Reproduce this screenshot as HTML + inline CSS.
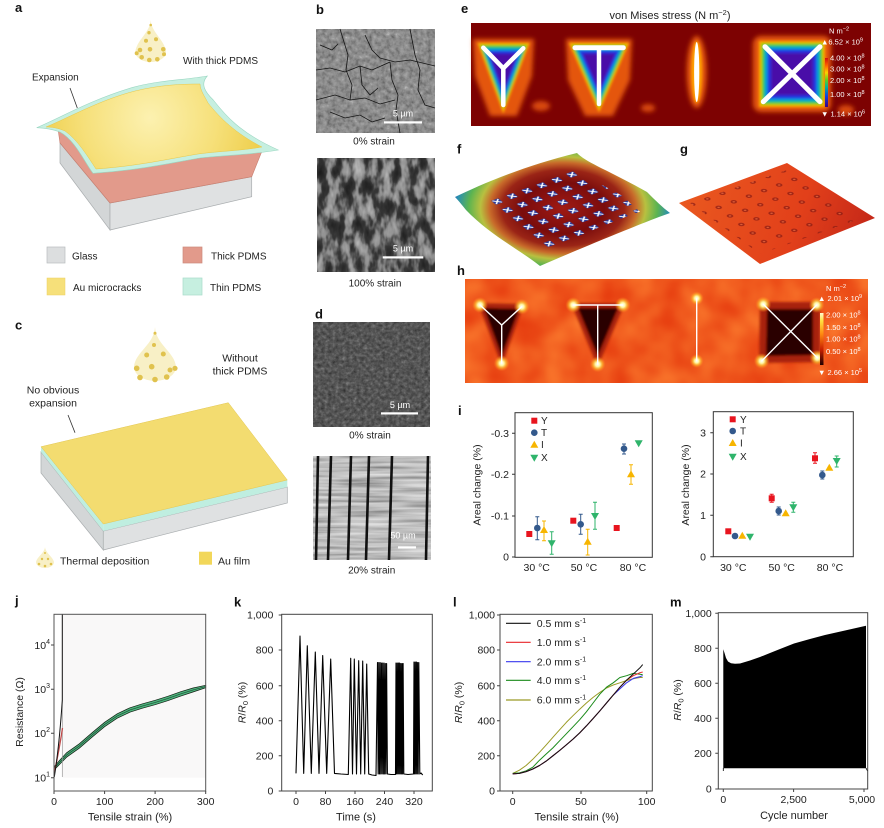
<!DOCTYPE html>
<html><head><meta charset="utf-8"><style>
html,body{margin:0;padding:0;background:#fff;}
svg{display:block;font-family:"Liberation Sans",Arial,sans-serif;}
</style></head><body>
<svg width="884" height="828" viewBox="0 0 884 828" xmlns="http://www.w3.org/2000/svg">
<defs>
  <filter id="semB1" x="0" y="0" width="1" height="1" color-interpolation-filters="sRGB">
    <feTurbulence type="fractalNoise" baseFrequency="0.22" numOctaves="3" seed="3"/>
    <feColorMatrix type="matrix" values="1 0 0 0 0 1 0 0 0 0 1 0 0 0 0 0 0 0 0 1"/>
    <feComponentTransfer><feFuncR type="table" tableValues="0.3 0.45 0.55 0.62 0.8"/><feFuncG type="table" tableValues="0.3 0.45 0.55 0.62 0.8"/><feFuncB type="table" tableValues="0.3 0.45 0.55 0.62 0.8"/></feComponentTransfer>
  </filter>
  <filter id="semB2" x="0" y="0" width="1" height="1" color-interpolation-filters="sRGB">
    <feTurbulence type="fractalNoise" baseFrequency="0.11 0.05" numOctaves="3" seed="7"/>
    <feColorMatrix type="matrix" values="1 0 0 0 0 1 0 0 0 0 1 0 0 0 0 0 0 0 0 1"/>
    <feComponentTransfer><feFuncR type="table" tableValues="0.1 0.15 0.22 0.55 0.68 0.78"/><feFuncG type="table" tableValues="0.1 0.15 0.22 0.55 0.68 0.78"/><feFuncB type="table" tableValues="0.1 0.15 0.22 0.55 0.68 0.78"/></feComponentTransfer>
  </filter>
  <filter id="semD1" x="0" y="0" width="1" height="1" color-interpolation-filters="sRGB">
    <feTurbulence type="fractalNoise" baseFrequency="0.28" numOctaves="3" seed="11"/>
    <feColorMatrix type="matrix" values="1 0 0 0 0 1 0 0 0 0 1 0 0 0 0 0 0 0 0 1"/>
    <feComponentTransfer><feFuncR type="table" tableValues="0.15 0.26 0.33 0.42 0.55"/><feFuncG type="table" tableValues="0.15 0.26 0.33 0.42 0.55"/><feFuncB type="table" tableValues="0.15 0.26 0.33 0.42 0.55"/></feComponentTransfer>
  </filter>
  <filter id="semD2" x="0" y="0" width="1" height="1" color-interpolation-filters="sRGB">
    <feTurbulence type="fractalNoise" baseFrequency="0.015 0.3" numOctaves="2" seed="5"/>
    <feColorMatrix type="matrix" values="1 0 0 0 0 1 0 0 0 0 1 0 0 0 0 0 0 0 0 1"/>
    <feComponentTransfer><feFuncR type="table" tableValues="0.4 0.6 0.75 0.85 0.92"/><feFuncG type="table" tableValues="0.4 0.6 0.75 0.85 0.92"/><feFuncB type="table" tableValues="0.4 0.6 0.75 0.85 0.92"/></feComponentTransfer>
  </filter>
  <filter id="hMot" x="0" y="0" width="1" height="1" color-interpolation-filters="sRGB">
    <feTurbulence type="fractalNoise" baseFrequency="0.035" numOctaves="2" seed="9"/>
    <feColorMatrix type="matrix" values="0.1 0 0 0 0.89  0.3 0 0 0 0.2  0.15 0 0 0 0.04  0 0 0 0 1"/>
  </filter>
  <filter id="bl2" x="-30%" y="-30%" width="160%" height="160%"><feGaussianBlur stdDeviation="1.4"/></filter>
  <filter id="bl3" x="-50%" y="-50%" width="200%" height="200%"><feGaussianBlur stdDeviation="2.5"/></filter>

  <linearGradient id="cbE" x1="0" y1="0" x2="0" y2="1">
    <stop offset="0" stop-color="#d01010"/><stop offset="0.15" stop-color="#ff6000"/><stop offset="0.3" stop-color="#ffd000"/><stop offset="0.45" stop-color="#60d020"/><stop offset="0.6" stop-color="#00b0a0"/><stop offset="0.78" stop-color="#1040e0"/><stop offset="1" stop-color="#400080"/>
  </linearGradient>
  <linearGradient id="cbH" x1="0" y1="0" x2="0" y2="1">
    <stop offset="0" stop-color="#fffbd0"/><stop offset="0.15" stop-color="#ffe040"/><stop offset="0.4" stop-color="#ff8a10"/><stop offset="0.7" stop-color="#c82000"/><stop offset="1" stop-color="#200000"/>
  </linearGradient>
  <radialGradient id="glow">
    <stop offset="0" stop-color="#ffffff"/><stop offset="0.3" stop-color="#fff6a0"/><stop offset="0.6" stop-color="#ffc030" stop-opacity="0.7"/><stop offset="1" stop-color="#ff8020" stop-opacity="0"/>
  </radialGradient>
  <radialGradient id="ygrad" cx="150" cy="118" r="110" gradientUnits="userSpaceOnUse">
    <stop offset="0" stop-color="#fcf1b0"/><stop offset="0.6" stop-color="#f6e07a"/><stop offset="1" stop-color="#efd050"/>
  </radialGradient>
  <radialGradient id="fgrad" cx="563" cy="208" r="118" gradientUnits="userSpaceOnUse" gradientTransform="translate(563 208) scale(1 0.62) translate(-563 -208)">
    <stop offset="0" stop-color="#a01a14"/><stop offset="0.35" stop-color="#7a0c0c"/><stop offset="0.52" stop-color="#9a2416"/><stop offset="0.62" stop-color="#c86a2a"/><stop offset="0.7" stop-color="#b8c040"/><stop offset="0.8" stop-color="#5cb450"/><stop offset="0.9" stop-color="#2a90b0"/><stop offset="1" stop-color="#2838b0"/>
  </radialGradient>
  <linearGradient id="ggrad" x1="679" y1="180" x2="875" y2="250" gradientUnits="userSpaceOnUse">
    <stop offset="0" stop-color="#ea5a20"/><stop offset="0.6" stop-color="#e2401a"/><stop offset="1" stop-color="#c02418"/>
  </linearGradient>
  <pattern id="gdots" width="14" height="14" patternUnits="userSpaceOnUse" patternTransform="matrix(1.08 -0.4 0.81 0.61 679 203)">
    <circle cx="7" cy="7" r="2.4" fill="#8a1a12" opacity="0.75"/>
    <circle cx="7" cy="7" r="1" fill="#e86a40" opacity="0.8"/>
  </pattern>
  <pattern id="fpat" width="17" height="17" patternUnits="userSpaceOnUse" patternTransform="matrix(1.22 -0.44 0.85 0.69 455 197)">
    <rect x="4" y="4" width="8" height="8" fill="#2a3a9a"/>
    <path d="M4.8,4.8 L11.2,11.2 M11.2,4.8 L4.8,11.2" stroke="#fff" stroke-width="1.5"/>
  </pattern>
  <polygon id="triY" points="481,46 526,46 503.3,107"/>
  <polygon id="triT" points="573,46 625,46 599,106"/>
  <polygon id="sqX" points="762,44 822,44 822,104 762,104"/>
  <path id="fsheet" d="M455,197 C480,185 523,166 577,153 C585,162 612,172 647,192 C655,200 662,207 670,213 C650,220 600,240 540,266 C520,250 490,235 466,210 C462,205 458,200 455,197 Z"/>
</defs>

<!-- ================= Panel a ================= -->
<text x="15" y="12" font-size="13" font-weight="bold" fill="#111">a</text>
<path d="M150.7,20 C151.5,33 165,40 166,52 A15.3,10 0 0 1 135.4,52 C136.4,40 150,33 150.7,20 Z" fill="#f8f0c6"/>
<g fill="#e0c24e">
<circle cx="150.7" cy="25" r="1.3"/><circle cx="149" cy="32.7" r="1.7"/><circle cx="156" cy="39.3" r="2"/><circle cx="146" cy="40.7" r="2"/><circle cx="140" cy="50" r="2.3"/><circle cx="150" cy="49.3" r="2.3"/><circle cx="163.3" cy="49.3" r="2.3"/><circle cx="141.7" cy="57.3" r="2.3"/><circle cx="149.3" cy="60" r="2.3"/><circle cx="157.3" cy="59.3" r="2.3"/><circle cx="164" cy="54.3" r="2"/><circle cx="136.7" cy="53.3" r="2"/>
</g>
<text x="183" y="64" font-size="10" fill="#222">With thick PDMS</text>
<text x="32" y="80.5" font-size="10" fill="#222">Expansion</text>
<line x1="70" y1="88" x2="77.3" y2="108" stroke="#333" stroke-width="0.8"/>
<path d="M60,143 L110,203 L110,230 L60,163 Z" fill="#d3d6d7" stroke="#a9adaf" stroke-width="0.7"/>
<path d="M110,203 L251.7,176.7 L251.7,196.7 L110,230 Z" fill="#dfe1e2" stroke="#a9adaf" stroke-width="0.7"/>
<path d="M58,129 C70,136 80,152 93,173 C140,168 200,156 262,151 L251.7,176.7 L110,203 L60,143 Z" fill="#e29a8b" stroke="#c77f70" stroke-width="0.6"/>
<path d="M36.7,127.7 C60,118 90,100 133,87.3 C160,80 185,80 207.3,76 C200,84 205,92 213.3,100 C225,115 240,133 278.3,150 C250,155 225,155 200,158 C170,163 140,170 93,173.3 C85,163 75,140 60,132 C52,129 44,128 36.7,127.7 Z" fill="#c6efe0" stroke="#9ad6c2" stroke-width="0.6"/>
<path d="M46,127 C70,117 100,100 135,91 C160,85 180,84 200,84 C200,90 205,97 208,103 C220,118 235,133 262,147 C240,151 220,151 198,154 C168,159 138,166 96,169 C88,157 78,140 65,131 C58,128 52,127 46,127 Z" fill="url(#ygrad)" stroke="#e8c84a" stroke-width="0.5"/>
<rect x="47" y="247" width="18" height="16" fill="#dcdedf" stroke="#b8bcbe" stroke-width="0.7"/>
<text x="72" y="259.5" font-size="10" fill="#222">Glass</text>
<rect x="183" y="247" width="19" height="16" fill="#e29a8b" stroke="#cc8a7c" stroke-width="0.7"/>
<text x="211" y="259.5" font-size="10" fill="#222">Thick PDMS</text>
<rect x="47" y="278" width="18" height="17" fill="#f6e07a" stroke="#ecd060" stroke-width="0.5"/>
<text x="73" y="291" font-size="10" fill="#222">Au microcracks</text>
<rect x="183" y="278" width="19" height="17" fill="#c6efe0" stroke="#a8dccb" stroke-width="0.7"/>
<text x="210" y="291" font-size="10" fill="#222">Thin PDMS</text>

<!-- ================= Panel c ================= -->
<text x="15" y="329.5" font-size="13" font-weight="bold" fill="#111">c</text>
<path d="M155,327 C156,345 175,352 176,367 A21,14 0 0 1 134,367 C135,352 154,345 155,327 Z" fill="#f8f0c6"/>
<g fill="#e0c24e">
<circle cx="155" cy="333.3" r="1.5"/><circle cx="154" cy="345" r="2"/><circle cx="146.7" cy="355" r="2.5"/><circle cx="163.3" cy="354" r="2.5"/><circle cx="136.7" cy="368.3" r="2.8"/><circle cx="151.7" cy="366.7" r="2.8"/><circle cx="175" cy="368.3" r="2.6"/><circle cx="140" cy="377.5" r="2.8"/><circle cx="155" cy="379.5" r="2.8"/><circle cx="166.7" cy="377" r="2.8"/><circle cx="170" cy="370" r="2.5"/>
</g>
<text x="240" y="361.5" font-size="10.5" fill="#222" text-anchor="middle">Without</text>
<text x="240" y="374.5" font-size="10.5" fill="#222" text-anchor="middle">thick PDMS</text>
<text x="53" y="393.5" font-size="10.5" fill="#222" text-anchor="middle">No obvious</text>
<text x="53" y="406.5" font-size="10.5" fill="#222" text-anchor="middle">expansion</text>
<line x1="68" y1="415" x2="75" y2="432.7" stroke="#333" stroke-width="0.8"/>
<path d="M41,452 L103.3,531 L103.3,550 L41,473 Z" fill="#d3d6d7" stroke="#a9adaf" stroke-width="0.7"/>
<path d="M103.3,531 L287.3,487 L287.3,503 L103.3,550 Z" fill="#dfe1e2" stroke="#a9adaf" stroke-width="0.7"/>
<path d="M41,446.7 L103.3,524 L103.3,531 L41,452 Z" fill="#bfeee0"/>
<path d="M103.3,524 L287.3,480 L287.3,487 L103.3,531 Z" fill="#bfeee0"/>
<path d="M41,446.7 L228.3,402.7 L287.3,480 L103.3,524 Z" fill="#f3dc70" stroke="#e2c650" stroke-width="0.5"/>
<path d="M45,547 C45.5,553 53,557 54,562 A9,6 0 0 1 36,562 C37,557 44.5,553 45,547 Z" fill="#f8f0c6"/>
<g fill="#e0c24e"><circle cx="45" cy="553" r="1"/><circle cx="42" cy="559" r="1.2"/><circle cx="48" cy="559" r="1.2"/><circle cx="39" cy="564" r="1.3"/><circle cx="45" cy="566" r="1.3"/><circle cx="51" cy="564" r="1.3"/></g>
<text x="60" y="564.5" font-size="10.5" fill="#222">Thermal deposition</text>
<rect x="199" y="551.7" width="13" height="13" fill="#f2d75a"/>
<text x="218" y="564.5" font-size="10.5" fill="#222">Au film</text>

<!-- ================= Panel b ================= -->
<text x="316" y="14" font-size="13" font-weight="bold" fill="#111">b</text>
<rect x="316" y="29" width="119" height="104" filter="url(#semB1)"/>
<g fill="none" stroke="#151515" stroke-width="0.8">
<path d="M316,70 L330,68 L345,72 L360,66 L372,70 L390,62"/>
<path d="M340,29 L348,55 L346,70 L352,85 L350,100"/>
<path d="M365,35 L372,50 L380,58 L395,62 L410,60 L435,66"/>
<path d="M316,100 L335,95 L350,100 L365,98 L380,104 L395,100"/>
<path d="M390,62 L392,80 L398,95 L396,110 L400,133"/>
<path d="M410,29 L415,55 L420,70 L418,90 L425,105 L435,108"/>
<path d="M330,112 L345,118 L360,115 L372,122 L385,118"/>
<path d="M360,66 L362,85 L370,95 L378,88"/>
<path d="M320,45 L332,50 L338,44"/>
</g>
<rect x="384" y="121.3" width="38" height="2.2" fill="#fff"/>
<text x="403" y="116.5" font-size="9" fill="#fff" text-anchor="middle">5 µm</text>
<text x="374" y="144.5" font-size="10" fill="#222" text-anchor="middle">0% strain</text>
<rect x="317" y="158" width="118" height="114" filter="url(#semB2)"/>
<rect x="382.7" y="256.3" width="40.6" height="2.2" fill="#fff"/>
<text x="403" y="251.5" font-size="9" fill="#fff" text-anchor="middle">5 µm</text>
<text x="375" y="286.5" font-size="10" fill="#222" text-anchor="middle">100% strain</text>

<!-- ================= Panel d ================= -->
<text x="315" y="318.5" font-size="13" font-weight="bold" fill="#111">d</text>
<rect x="313" y="322" width="117" height="105" filter="url(#semD1)"/>
<rect x="381" y="412.3" width="37" height="2.2" fill="#fff"/>
<text x="400" y="408" font-size="9" fill="#fff" text-anchor="middle">5 µm</text>
<text x="370" y="438.5" font-size="10" fill="#222" text-anchor="middle">0% strain</text>
<rect x="313" y="456" width="118" height="104" filter="url(#semD2)"/>
<g stroke="#111" stroke-width="2.6" fill="none">
<path d="M318,456 L316,560"/><path d="M331,456 L328,560"/><path d="M351,456 L348,560"/><path d="M369,456 L366,560"/><path d="M392,456 L389,560"/><path d="M428,456 L426,560"/>
</g>
<rect x="398" y="546.3" width="18" height="2.2" fill="#fff"/>
<text x="403" y="538.5" font-size="9" fill="#fff" text-anchor="middle">50 µm</text>
<text x="371.7" y="573.5" font-size="10" fill="#222" text-anchor="middle">20% strain</text>

<!-- ================= Panel e ================= -->
<text x="461" y="13" font-size="13" font-weight="bold" fill="#111">e</text>
<text x="670" y="19" font-size="11" fill="#222" text-anchor="middle">von Mises stress (N m<tspan font-size="7.5" dy="-4">−2</tspan><tspan dy="4">)</tspan></text>
<rect x="471" y="23" width="400" height="103" fill="#7d0202"/>
<g filter="url(#bl3)">
<polygon points="473,39 534,39 532,76 517,116 490,116 475,76" fill="#e4560a"/>
<polygon points="566,39 632,39 630,80 613,116 585,116 568,80" fill="#e4560a"/>
<rect x="753" y="36" width="78" height="76" rx="8" fill="#e4560a"/>
<ellipse cx="696.7" cy="72" rx="10" ry="36" fill="#e4560a"/>
<ellipse cx="541" cy="106" rx="9" ry="5" fill="#d8480a"/><ellipse cx="648" cy="108" rx="7" ry="4" fill="#d8480a"/><ellipse cx="846" cy="110" rx="8" ry="5" fill="#d8480a"/>
</g>
<g filter="url(#bl2)">
<use href="#triY" fill="#ffb000" transform="translate(503.4 66.3) scale(1.16) translate(-503.4 -66.3)"/>
<use href="#triY" fill="#80d000" transform="translate(503.4 66.3) scale(1.06) translate(-503.4 -66.3)"/>
<use href="#triY" fill="#00c070" transform="translate(503.4 66.3) scale(0.97) translate(-503.4 -66.3)"/>
<use href="#triY" fill="#00a0e0" transform="translate(503.4 66.3) scale(0.88) translate(-503.4 -66.3)"/>
<use href="#triY" fill="#2030e0" transform="translate(503.4 66.3) scale(0.77) translate(-503.4 -66.3)"/>
<use href="#triY" fill="#4a10a8" transform="translate(503.4 66.3) scale(0.62) translate(-503.4 -66.3)"/>
<use href="#triT" fill="#ffb000" transform="translate(599 66) scale(1.16) translate(-599 -66)"/>
<use href="#triT" fill="#80d000" transform="translate(599 66) scale(1.06) translate(-599 -66)"/>
<use href="#triT" fill="#00c070" transform="translate(599 66) scale(0.97) translate(-599 -66)"/>
<use href="#triT" fill="#00a0e0" transform="translate(599 66) scale(0.88) translate(-599 -66)"/>
<use href="#triT" fill="#2030e0" transform="translate(599 66) scale(0.77) translate(-599 -66)"/>
<use href="#triT" fill="#4a10a8" transform="translate(599 66) scale(0.62) translate(-599 -66)"/>
<use href="#sqX" fill="#ffb000" transform="translate(792 74) scale(1.1) translate(-792 -74)"/>
<use href="#sqX" fill="#80d000" transform="translate(792 74) scale(1.03) translate(-792 -74)"/>
<use href="#sqX" fill="#00c070" transform="translate(792 74) scale(0.96) translate(-792 -74)"/>
<use href="#sqX" fill="#00a0e0" transform="translate(792 74) scale(0.9) translate(-792 -74)"/>
<use href="#sqX" fill="#2030e0" transform="translate(792 74) scale(0.82) translate(-792 -74)"/>
<use href="#sqX" fill="#4a10a8" transform="translate(792 74) scale(0.7) translate(-792 -74)"/>
<ellipse cx="696.7" cy="72" rx="5.5" ry="31" fill="#ffa000"/>
</g>
<g stroke="#fff" stroke-linecap="round" fill="none">
<path d="M483.3,47.7 L503.3,68.3 L523.3,48.3 M503.3,68.3 L503.3,105" stroke-width="4.5" stroke-linejoin="round"/>
<path d="M575,47.7 L623.3,47.7" stroke-width="5"/><path d="M599,47.7 L599,104" stroke-width="4.5"/>
<path d="M765,46.7 L820,101.7 M820,46.7 L763.3,101.7" stroke-width="5"/>
</g>
<ellipse cx="696.7" cy="72" rx="2.6" ry="30" fill="#fff"/>
<rect x="825" y="58" width="3" height="49" fill="url(#cbE)"/>
<g font-size="7.5" fill="#fff">
<text x="829" y="33.5">N m<tspan font-size="5.5" dy="-3">−2</tspan></text>
<text x="821" y="44.5">▲6.52 × 10<tspan font-size="5.5" dy="-3">9</tspan></text>
<text x="830" y="60.5">4.00 × 10<tspan font-size="5.5" dy="-3">8</tspan></text>
<text x="830" y="71.5">3.00 × 10<tspan font-size="5.5" dy="-3">8</tspan></text>
<text x="830" y="83">2.00 × 10<tspan font-size="5.5" dy="-3">8</tspan></text>
<text x="830" y="97">1.00 × 10<tspan font-size="5.5" dy="-3">8</tspan></text>
<text x="821" y="116.5">▼ 1.14 × 10<tspan font-size="5.5" dy="-3">6</tspan></text>
</g>

<!-- ================= Panel f ================= -->
<text x="457" y="153.5" font-size="13" font-weight="bold" fill="#111">f</text>
<use href="#fsheet" fill="url(#fgrad)"/>
<use href="#fsheet" fill="url(#fpat)" transform="translate(563 208) scale(0.72) translate(-563 -208)"/>

<!-- ================= Panel g ================= -->
<text x="680" y="153.5" font-size="13" font-weight="bold" fill="#111">g</text>
<polygon points="679,203 787,163 875,218 760,264" fill="url(#ggrad)"/>
<polygon points="690,203 787,170 862,218 760,254" fill="url(#gdots)"/>

<!-- ================= Panel h ================= -->
<text x="457" y="275" font-size="13" font-weight="bold" fill="#111">h</text>
<rect x="465" y="279" width="403" height="104" filter="url(#hMot)"/>
<g filter="url(#bl2)">
<polygon points="478,303 524,304 501.7,366" fill="#a82008"/>
<polygon points="484,308 519,309 501.7,356" fill="#2a0200"/>
<polygon points="571,303 625,303 597.7,367" fill="#a82008"/>
<polygon points="578,308 618,308 597.7,356" fill="#2a0200"/>
<polygon points="760,302 820,302 820,362 759,363" fill="#a82008"/>
<polygon points="767,309 813,309 813,355 766,356" fill="#2a0200"/>
</g>
<g fill="url(#glow)">
<circle cx="480" cy="305" r="8"/><circle cx="521.7" cy="306.7" r="8"/><circle cx="501.7" cy="363.3" r="8"/>
<circle cx="573.3" cy="305" r="8"/><circle cx="622.7" cy="305" r="8"/><circle cx="597.7" cy="364.3" r="8"/>
<circle cx="696.7" cy="298.3" r="7"/><circle cx="696.7" cy="361" r="7"/>
<circle cx="763.3" cy="304.3" r="8"/><circle cx="817.3" cy="357.7" r="8"/><circle cx="816.7" cy="305" r="8"/><circle cx="761.7" cy="361" r="8"/>
</g>
<g stroke="#fff" stroke-width="1.4" fill="none">
<path d="M480,305 L501.7,325 L521.7,306.7 M501.7,325 L501.7,363.3"/>
<path d="M573.3,305 L622.7,305 M597.7,305 L597.7,364.3"/>
<path d="M696.7,298.3 L696.7,361"/>
<path d="M763.3,304.3 L817.3,357.7 M816.7,305 L761.7,361"/>
</g>
<rect x="820" y="313" width="3.5" height="52" fill="url(#cbH)"/>
<g font-size="7.5" fill="#fff">
<text x="826" y="291">N m<tspan font-size="5.5" dy="-3">−2</tspan></text>
<text x="818" y="301">▲ 2.01 × 10<tspan font-size="5.5" dy="-3">9</tspan></text>
<text x="826" y="317.5">2.00 × 10<tspan font-size="5.5" dy="-3">8</tspan></text>
<text x="826" y="330">1.50 × 10<tspan font-size="5.5" dy="-3">8</tspan></text>
<text x="826" y="341.5">1.00 × 10<tspan font-size="5.5" dy="-3">8</tspan></text>
<text x="826" y="354">0.50 × 10<tspan font-size="5.5" dy="-3">8</tspan></text>
<text x="818" y="375">▼ 2.66 × 10<tspan font-size="5.5" dy="-3">5</tspan></text>
</g>

<!-- ================= Panel i ================= -->
<text x="458" y="415" font-size="13" font-weight="bold" fill="#111">i</text>
<rect x="515" y="412.7" width="137.3" height="144.6" fill="none" stroke="#333" stroke-width="1"/>
<g stroke="#333" stroke-width="1"><path d="M512,433.3 H515 M512,474.3 H515 M512,516 H515 M512,557 H515"/></g>
<g font-size="10.5" fill="#222" text-anchor="end">
<text x="509" y="437">-0.3</text><text x="509" y="478">-0.2</text><text x="509" y="519.7">-0.1</text><text x="509" y="560.7">0</text>
</g>
<g font-size="10.5" fill="#222" text-anchor="middle">
<text x="536.7" y="571">30 °C</text><text x="584" y="571">50 °C</text><text x="633" y="571">80 °C</text>
</g>
<text transform="translate(480.5 485) rotate(-90)" font-size="10.5" fill="#222" text-anchor="middle">Areal change (%)</text>
<g stroke-width="1">
<path d="M537.3,516.7 V539.7 M535.3,516.7 H539.3 M535.3,539.7 H539.3" stroke="#33598c"/>
<path d="M544,521 V540.7 M542,521 H546 M542,540.7 H546" stroke="#f7b500"/>
<path d="M551.7,531.7 V554.3 M549.7,531.7 H553.7 M549.7,554.3 H553.7" stroke="#2fb46b"/>
<path d="M580.7,514.3 V534.3 M578.7,514.3 H582.7 M578.7,534.3 H582.7" stroke="#33598c"/>
<path d="M587.7,529.3 V555 M585.7,529.3 H589.7 M585.7,555 H589.7" stroke="#f7b500"/>
<path d="M595,502.3 V529.3 M593,502.3 H597 M593,529.3 H597" stroke="#2fb46b"/>
<path d="M624,444 V454 M622,444 H626 M622,454 H626" stroke="#33598c"/>
<path d="M631,464.7 V484.3 M629,464.7 H633 M629,484.3 H633" stroke="#f7b500"/>
<path d="M638.7,441 V446 M636.7,441 H640.7" stroke="#2fb46b"/>
<path d="M529.3,531.5 V536.5" stroke="#e8141e"/>
</g>
<g fill="#e8141e"><rect x="526.3" y="531" width="6" height="6"/><rect x="570.3" y="517.7" width="6" height="6"/><rect x="613.7" y="525" width="6" height="6"/><rect x="531.3" y="417.7" width="6" height="6"/></g>
<g fill="#33598c"><circle cx="537.3" cy="528" r="3.3"/><circle cx="580.7" cy="524.3" r="3.3"/><circle cx="624" cy="448.7" r="3.3"/><circle cx="534.3" cy="432.7" r="3.3"/></g>
<g fill="#f7b500"><path d="M544,526 L548,533 L540,533 Z"/><path d="M587.7,537.7 L591.7,544.7 L583.7,544.7 Z"/><path d="M631,470.3 L635,477.3 L627,477.3 Z"/><path d="M534.3,440.7 L538.3,447.7 L530.3,447.7 Z"/></g>
<g fill="#2fb46b"><path d="M551.7,547.3 L555.7,540.3 L547.7,540.3 Z"/><path d="M595,520 L599,513 L591,513 Z"/><path d="M638.7,447.3 L642.7,440.3 L634.7,440.3 Z"/><path d="M534.3,461.7 L538.3,454.7 L530.3,454.7 Z"/></g>
<g font-size="10" fill="#222"><text x="541" y="424.2">Y</text><text x="541" y="436.2">T</text><text x="541" y="448.2">I</text><text x="541" y="461.2">X</text></g>

<rect x="713.3" y="411.7" width="140" height="145" fill="none" stroke="#333" stroke-width="1"/>
<g stroke="#333" stroke-width="1"><path d="M710.3,432.7 H713.3 M710.3,474 H713.3 M710.3,515.3 H713.3 M710.3,556.7 H713.3"/></g>
<g font-size="10.5" fill="#222" text-anchor="end">
<text x="706" y="436.4">3</text><text x="706" y="477.7">2</text><text x="706" y="519">1</text><text x="706" y="560.4">0</text>
</g>
<g font-size="10.5" fill="#222" text-anchor="middle">
<text x="733.3" y="571">30 °C</text><text x="781.7" y="571">50 °C</text><text x="830" y="571">80 °C</text>
</g>
<text transform="translate(689 485) rotate(-90)" font-size="10.5" fill="#222" text-anchor="middle">Areal change (%)</text>
<g stroke-width="1">
<path d="M771.7,494.3 V502.3 M769.7,494.3 H773.7 M769.7,502.3 H773.7" stroke="#e8141e"/>
<path d="M793.3,502.3 V512.3 M791.3,502.3 H795.3 M791.3,512.3 H795.3" stroke="#2fb46b"/>
<path d="M815,452.7 V463.3 M813,452.7 H817 M813,463.3 H817" stroke="#e8141e"/>
<path d="M822.3,471 V479 M820.3,471 H824.3 M820.3,479 H824.3" stroke="#33598c"/>
<path d="M836.7,456 V467 M834.7,456 H838.7 M834.7,467 H838.7" stroke="#2fb46b"/>
<path d="M778.7,507 V515 M776.7,507 H780.7 M776.7,515 H780.7" stroke="#33598c"/>
</g>
<g fill="#e8141e"><rect x="725.3" y="528.3" width="6" height="6"/><rect x="768.7" y="495.3" width="6" height="6"/><rect x="812" y="455.3" width="6" height="6"/><rect x="729.7" y="416.3" width="6" height="6"/></g>
<g fill="#33598c"><circle cx="735" cy="536" r="3.3"/><circle cx="778.7" cy="511" r="3.3"/><circle cx="822.3" cy="475" r="3.3"/><circle cx="732.7" cy="431" r="3.3"/></g>
<g fill="#f7b500"><path d="M742.3,531.7 L746.3,538.7 L738.3,538.7 Z"/><path d="M785.7,509.3 L789.7,516.3 L781.7,516.3 Z"/><path d="M829.3,463.7 L833.3,470.7 L825.3,470.7 Z"/><path d="M732.7,439 L736.7,446 L728.7,446 Z"/></g>
<g fill="#2fb46b"><path d="M750,540.7 L754,533.7 L746,533.7 Z"/><path d="M793.3,511.3 L797.3,504.3 L789.3,504.3 Z"/><path d="M836.7,465 L840.7,458 L832.7,458 Z"/><path d="M732.7,460.7 L736.7,453.7 L728.7,453.7 Z"/></g>
<g font-size="10" fill="#222"><text x="740" y="422.8">Y</text><text x="740" y="434.5">T</text><text x="740" y="446.5">I</text><text x="740" y="460.2">X</text></g>

<!-- ================= Panel j ================= -->
<text x="15" y="605" font-size="13" font-weight="bold" fill="#111">j</text>
<rect x="62.3" y="614.3" width="143.4" height="163.4" fill="#f9f8f8"/>
<polygon fill="#4cb37c" stroke="#152015" stroke-width="0.7" points="54,767 59,761 66.6,752.8 79.3,743.8 92,732.8 104.6,722.3 117.2,713.8 129.9,707.8 142.5,703.8 155.1,700.3 167.8,696.3 180.4,691.8 193,688 205.7,685.3 205.7,687.7 193,692 180.4,696.2 167.8,700.7 155.1,704.7 142.5,708.2 129.9,712.2 117.2,718.2 104.6,726.7 92,737.2 79.3,748.2 66.6,757.2 59,765 54,770"/>
<polyline fill="none" stroke="#1a3a2a" stroke-width="0.6" points="54,768.5 59,763 66.6,755 79.3,746 92,735 104.6,724.5 117.2,716 129.9,710 142.5,706 155.1,702.5 167.8,698.5 180.4,694 193,690 205.7,686.5"/>
<path d="M62.3,700 L62.3,777" stroke="#999" stroke-width="0.7"/>
<path d="M54.5,772 C57,760 60,745 62.5,728" stroke="#c04a4a" stroke-width="1.3" fill="none"/>
<path d="M54.3,777 C57,760 60,735 62.3,700 L62.3,614.3" stroke="#111" stroke-width="1" fill="none"/>
<rect x="54" y="614.3" width="151.7" height="176.7" fill="none" stroke="#555" stroke-width="1"/>
<g stroke="#444" stroke-width="1"><path d="M51,645 H54 M51,689.3 H54 M51,733.3 H54 M51,777.7 H54 M54,791 V794 M104.6,791 V794 M155.1,791 V794 M205.7,791 V794"/></g>
<g font-size="10.5" fill="#222" text-anchor="end">
<text x="50" y="649">10<tspan font-size="7" dy="-5">4</tspan></text>
<text x="50" y="693">10<tspan font-size="7" dy="-5">3</tspan></text>
<text x="50" y="737">10<tspan font-size="7" dy="-5">2</tspan></text>
<text x="50" y="781.5">10<tspan font-size="7" dy="-5">1</tspan></text>
</g>
<g font-size="10.5" fill="#222" text-anchor="middle">
<text x="54" y="805">0</text><text x="104.6" y="805">100</text><text x="155.1" y="805">200</text><text x="205.7" y="805">300</text>
<text x="130" y="820.5" font-size="11">Tensile strain (%)</text>
</g>
<text transform="translate(23 712) rotate(-90)" font-size="10.5" fill="#222" text-anchor="middle">Resistance (Ω)</text>

<!-- ================= Panel k ================= -->
<text x="234" y="606.7" font-size="13" font-weight="bold" fill="#111">k</text>
<polyline fill="none" stroke="#000" stroke-width="1.1" stroke-linejoin="round" points="296,773.4 300,636.1 303.7,773.4 307.3,645.8 311.3,773.4 315.3,652 319,773.4 322.7,655.5 326.7,773.4 330.7,659 334.5,773.4 341,774 348.3,774.5 350.7,658.3 352.5,774 354.3,659 356.5,774 358.7,660.7 360.7,774 362.7,661 364.7,774 366.7,664 368.7,774 372,775 376,775.5 377.5,662.5 378.15,774 378.8,662.5 379.45,774 380.1,662.5 380.75,774 381.4,663 382.05,774 382.7,663 383.35,774 384,663 384.65,774 385.3,663.5 385.95,774 386.6,663.5 387.4,774 391,774.5 395.5,774.5 396,663 396.6,774 397.2,663 397.8,774 398.4,663 399,774 399.6,663 400.2,774 400.8,663.5 401.4,774 402,663.5 402.6,774 403.1,663.5 403.8,774 408,774.5 413.5,774 414,662 414.6,774 415.2,662 415.8,774 416.4,662 417,774 417.6,662.5 418.2,774 418.8,662.5 419.8,774 421,773 422.7,775"/>
<rect x="281.7" y="614.3" width="150.6" height="176.7" fill="none" stroke="#444" stroke-width="1"/>
<g stroke="#444" stroke-width="1"><path d="M278.7,615 H281.7 M278.7,650 H281.7 M278.7,685.7 H281.7 M278.7,720.7 H281.7 M278.7,755.7 H281.7 M278.7,791 H281.7 M296,791 V794 M325.5,791 V794 M355,791 V794 M384.5,791 V794 M414,791 V794"/></g>
<g font-size="10.5" fill="#222" text-anchor="end">
<text x="273.3" y="618.7">1,000</text><text x="273.3" y="653.7">800</text><text x="273.3" y="689.4">600</text><text x="273.3" y="724.4">400</text><text x="273.3" y="759.4">200</text><text x="273.3" y="794.7">0</text>
</g>
<g font-size="10.5" fill="#222" text-anchor="middle">
<text x="296" y="805">0</text><text x="325.5" y="805">80</text><text x="355" y="805">160</text><text x="384.5" y="805">240</text><text x="414" y="805">320</text>
<text x="356" y="820.5" font-size="11">Time (s)</text>
</g>
<text transform="translate(245.5 702.5) rotate(-90)" font-size="10.5" fill="#222" text-anchor="middle"><tspan font-style="italic">R</tspan>/<tspan font-style="italic">R</tspan><tspan font-size="7.5" dy="2.5">0</tspan><tspan dy="-2.5"> (%)</tspan></text>

<!-- ================= Panel l ================= -->
<text x="453" y="606.7" font-size="13" font-weight="bold" fill="#111">l</text>
<g fill="none" stroke-width="1" stroke-linejoin="round">
<polyline stroke="#9b9b26" points="512.7,773.4 519.4,770.2 526.1,765.5 532.8,759.3 539.5,752.3 546.2,744.9 552.9,737.3 559.6,729.8 566.3,722.4 573,715.7 579.7,709.2 586.4,703 593.1,697.4 599.8,692.4 606.5,688 613.2,685 619.9,682.8 626.6,680.5 633.3,678.7 640,677.5 642.7,677.5"/>
<polyline stroke="#1a8a1a" points="512.7,773.4 519.4,772.9 526.1,770.8 532.8,767.2 539.5,760.2 546.2,754 552.9,747.9 559.6,740.8 566.3,733.8 573,726.8 579.7,719.7 586.4,711.8 593.1,703 599.8,694.2 606.5,687.2 613.2,682.8 619.9,677.5 626.6,675.7 633.3,673.4 640,674.3 642.7,674.8"/>
<polyline stroke="#3a3aee" points="512.7,773.9 519.4,773.4 526.1,771.6 532.8,769 539.5,765.5 546.2,761.1 552.9,755.8 559.6,750.5 566.3,744.9 573,739.1 579.7,732.9 586.4,725.9 593.1,718.5 599.8,710.9 606.5,703 613.2,695.1 619.9,688.9 626.6,682.8 633.3,678.4 640,676.6 642.7,675.7"/>
<polyline stroke="#e8262a" points="512.7,773.9 519.4,773.4 526.1,771.6 532.8,769 539.5,765.5 546.2,761.1 552.9,755.8 559.6,750.5 566.3,744.9 573,739.1 579.7,732.9 586.4,725.9 593.1,718.5 599.8,710.9 606.5,703 613.2,695.1 619.9,687.2 626.6,680.1 633.3,675.7 640,672.7 642.7,672"/>
<polyline stroke="#111" points="512.7,773.9 519.4,773.4 526.1,771.6 532.8,769 539.5,765.5 546.2,761.1 552.9,755.8 559.6,750.5 566.3,744.9 573,739.1 579.7,732.9 586.4,725.9 593.1,718.5 599.8,710.9 606.5,703 613.2,695.1 619.9,687.2 626.6,680.1 633.3,674 640,667.8 642.7,664.6"/>
</g>
<g stroke-width="1.2">
<line x1="506" y1="623.3" x2="530.7" y2="623.3" stroke="#111"/>
<line x1="506" y1="642.3" x2="530.7" y2="642.3" stroke="#e8262a"/>
<line x1="506" y1="661.7" x2="530.7" y2="661.7" stroke="#3a3aee"/>
<line x1="506" y1="680.3" x2="530.7" y2="680.3" stroke="#1a8a1a"/>
<line x1="506" y1="700" x2="530.7" y2="700" stroke="#9b9b26"/>
</g>
<g font-size="10.5" fill="#222">
<text x="536.7" y="627">0.5 mm s<tspan font-size="7" dy="-4">-1</tspan></text>
<text x="536.7" y="646">1.0 mm s<tspan font-size="7" dy="-4">-1</tspan></text>
<text x="536.7" y="665.4">2.0 mm s<tspan font-size="7" dy="-4">-1</tspan></text>
<text x="536.7" y="684">4.0 mm s<tspan font-size="7" dy="-4">-1</tspan></text>
<text x="536.7" y="703.7">6.0 mm s<tspan font-size="7" dy="-4">-1</tspan></text>
</g>
<rect x="500" y="614.3" width="152.3" height="176.7" fill="none" stroke="#444" stroke-width="1"/>
<g stroke="#444" stroke-width="1"><path d="M497,615 H500 M497,650 H500 M497,685.7 H500 M497,720.7 H500 M497,755.7 H500 M497,791 H500 M512.7,791 V794 M581,791 V794 M646.7,791 V794"/></g>
<g font-size="10.5" fill="#222" text-anchor="end">
<text x="495" y="618.7">1,000</text><text x="495" y="653.7">800</text><text x="495" y="689.4">600</text><text x="495" y="724.4">400</text><text x="495" y="759.4">200</text><text x="495" y="794.7">0</text>
</g>
<g font-size="10.5" fill="#222" text-anchor="middle">
<text x="512.7" y="805">0</text><text x="581" y="805">50</text><text x="646.7" y="805">100</text>
<text x="576.7" y="820.5" font-size="11">Tensile strain (%)</text>
</g>
<text transform="translate(462 702.5) rotate(-90)" font-size="10.5" fill="#222" text-anchor="middle"><tspan font-style="italic">R</tspan>/<tspan font-style="italic">R</tspan><tspan font-size="7.5" dy="2.5">0</tspan><tspan dy="-2.5"> (%)</tspan></text>

<!-- ================= Panel m ================= -->
<text x="670" y="606.7" font-size="13" font-weight="bold" fill="#111">m</text>
<path d="M723.3,768.3 L723.3,649.3 L724.5,653 L726,658 L728,661.5 L731,663.2 L735,663.8 L740,663.5 L750,660.5 L760,657 L770,653 L780,649 L794,643.5 L810,639 L825,635 L845,630.5 L866,625.8 L866,768.3 Z" fill="#000"/>
<path d="M723.3,768 V771 M866,768 L867.5,771" stroke="#000" stroke-width="0.8"/>
<rect x="718.3" y="612.7" width="149.4" height="176.3" fill="none" stroke="#444" stroke-width="1"/>
<g stroke="#444" stroke-width="1"><path d="M715.3,613.3 H718.3 M715.3,648.3 H718.3 M715.3,683.3 H718.3 M715.3,718.3 H718.3 M715.3,753.3 H718.3 M715.3,789 H718.3 M723.3,789 V792 M793.6,789 V792 M864,789 V792"/></g>
<g font-size="10.5" fill="#222" text-anchor="end">
<text x="711.7" y="617">1,000</text><text x="711.7" y="652">800</text><text x="711.7" y="687">600</text><text x="711.7" y="722">400</text><text x="711.7" y="757">200</text><text x="711.7" y="792.7">0</text>
</g>
<g font-size="10.5" fill="#222" text-anchor="middle">
<text x="723.3" y="803">0</text><text x="793.6" y="803">2,500</text><text x="862" y="803">5,000</text>
<text x="794" y="819" font-size="11">Cycle number</text>
</g>
<text transform="translate(681 700) rotate(-90)" font-size="10.5" fill="#222" text-anchor="middle"><tspan font-style="italic">R</tspan>/<tspan font-style="italic">R</tspan><tspan font-size="7.5" dy="2.5">0</tspan><tspan dy="-2.5"> (%)</tspan></text>
</svg>
</body></html>
